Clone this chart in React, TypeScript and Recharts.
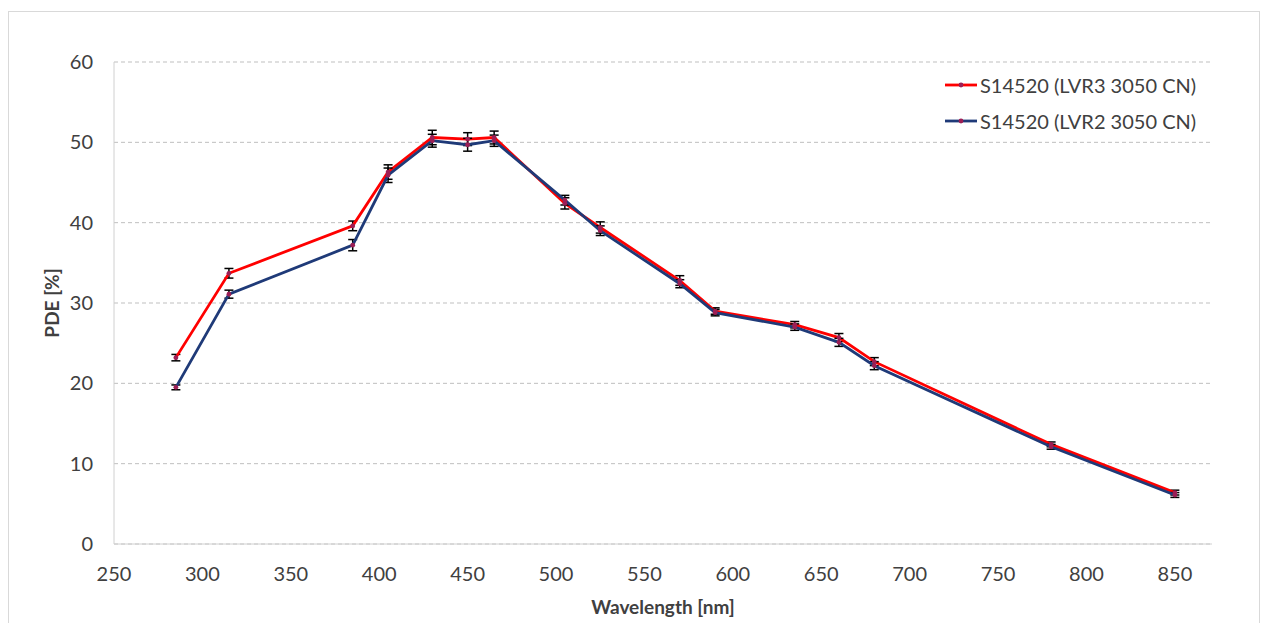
import { LineChart, Line, XAxis, YAxis, CartesianGrid, Legend, ErrorBar } from 'recharts';

const wavelengths = [285, 315, 385, 405, 430, 450, 465, 505, 525, 570, 590, 635, 660, 680, 780, 850];
const lvr3 = [23.2, 33.7, 39.6, 46.3, 50.6, 50.4, 50.6, 42.4, 39.4, 32.8, 29.0, 27.3, 25.7, 22.7, 12.4, 6.4];
const lvr3Err = [0.4, 0.6, 0.6, 0.9, 0.9, 0.8, 0.8, 0.7, 0.7, 0.6, 0.4, 0.4, 0.5, 0.5, 0.3, 0.3];
const lvr2 = [19.5, 31.1, 37.2, 45.9, 50.2, 49.7, 50.2, 42.8, 39.0, 32.4, 28.8, 27.0, 25.1, 22.2, 12.1, 6.1];
const lvr2Err = [0.3, 0.5, 0.7, 0.9, 0.8, 0.8, 0.7, 0.6, 0.6, 0.5, 0.4, 0.4, 0.5, 0.5, 0.3, 0.3];
const xTicks = [250, 300, 350, 400, 450, 500, 550, 600, 650, 700, 750, 800, 850];
const yTicks = [0, 10, 20, 30, 40, 50, 60];
const legendOrder = ['lvr3', 'lvr2'];

const FONT = 'Lato, "Open Sans", sans-serif';
const TEXT = '#404040';
const MARKER = '#9c1f55';

const data = wavelengths.map((w, i) => ({
  wl: w,
  lvr3: lvr3[i],
  lvr3Err: lvr3Err[i],
  lvr2: lvr2[i],
  lvr2Err: lvr2Err[i],
}));

function LegendBox({ payload }: any) {
  const items = [...(payload || [])].sort(
    (a: any, b: any) => legendOrder.indexOf(a.dataKey) - legendOrder.indexOf(b.dataKey)
  );
  return (
    <div style={{ fontFamily: FONT, fontSize: 20, color: TEXT }}>
      {items.map((entry: any) => (
        <div key={entry.value} style={{ display: 'flex', alignItems: 'center', height: 36 }}>
          <svg width={36} height={10} style={{ marginRight: 1 }}>
            <line x1={2} y1={5} x2={34} y2={5} stroke={entry.color} strokeWidth={2.8} />
            <circle cx={18} cy={5} r={2.4} fill={MARKER} />
          </svg>
          <span>{entry.value}</span>
        </div>
      ))}
    </div>
  );
}

export default function App() {
  return (
    <div
      style={{
        position: 'absolute',
        left: 8,
        top: 11,
        width: 1250,
        height: 640,
        border: '1px solid #d9d9d9',
        background: '#fff',
      }}
    >
      <LineChart
        width={1248}
        height={620}
        data={data}
        margin={{ top: 50, right: 45, bottom: 0, left: 0 }}
        style={{ fontFamily: FONT }}
      >
        <CartesianGrid vertical={false} stroke="#bfbfbf" strokeDasharray="4 3" />
        <XAxis
          dataKey="wl"
          type="number"
          domain={[250, 871]}
          ticks={xTicks}
          height={88}
          tickLine={false}
          tickSize={6}
          tickMargin={17}
          axisLine={{ stroke: '#d0d0d0' }}
          tick={{ fill: TEXT, fontSize: 20 }}
          label={{
            value: 'Wavelength [nm]',
            position: 'insideBottom',
            offset: 18,
            style: { fill: TEXT, fontSize: 19, fontWeight: 'bold' },
          }}
        />
        <YAxis
          type="number"
          domain={[0, 60]}
          ticks={yTicks}
          width={105}
          tickLine={false}
          tickSize={6}
          tickMargin={15}
          axisLine={{ stroke: '#d0d0d0' }}
          tick={{ fill: TEXT, fontSize: 20 }}
          label={{
            value: 'PDE [%]',
            angle: -90,
            position: 'insideLeft',
            offset: 43,
            style: { fill: TEXT, fontSize: 19, fontWeight: 'bold', textAnchor: 'middle' },
          }}
        />
        <Legend
          layout="vertical"
          verticalAlign="middle"
          align="center"
          content={<LegendBox />}
          wrapperStyle={{ top: 55, left: 934, width: 300 }}
        />
        <Line
          type="linear"
          dataKey="lvr3"
          name="S14520 (LVR3 3050 CN)"
          stroke="#ff0000"
          strokeWidth={2.8}
          dot={{ r: 2.4, fill: MARKER, stroke: 'none' }}
          isAnimationActive={false}
        >
          <ErrorBar dataKey="lvr3Err" direction="y" width={4.5} stroke="#000" strokeWidth={1.5} />
        </Line>
        <Line
          type="linear"
          dataKey="lvr2"
          name="S14520 (LVR2 3050 CN)"
          stroke="#1f3a78"
          strokeWidth={2.8}
          dot={{ r: 2.4, fill: MARKER, stroke: 'none' }}
          isAnimationActive={false}
        >
          <ErrorBar dataKey="lvr2Err" direction="y" width={4.5} stroke="#000" strokeWidth={1.5} />
        </Line>
      </LineChart>
    </div>
  );
}
